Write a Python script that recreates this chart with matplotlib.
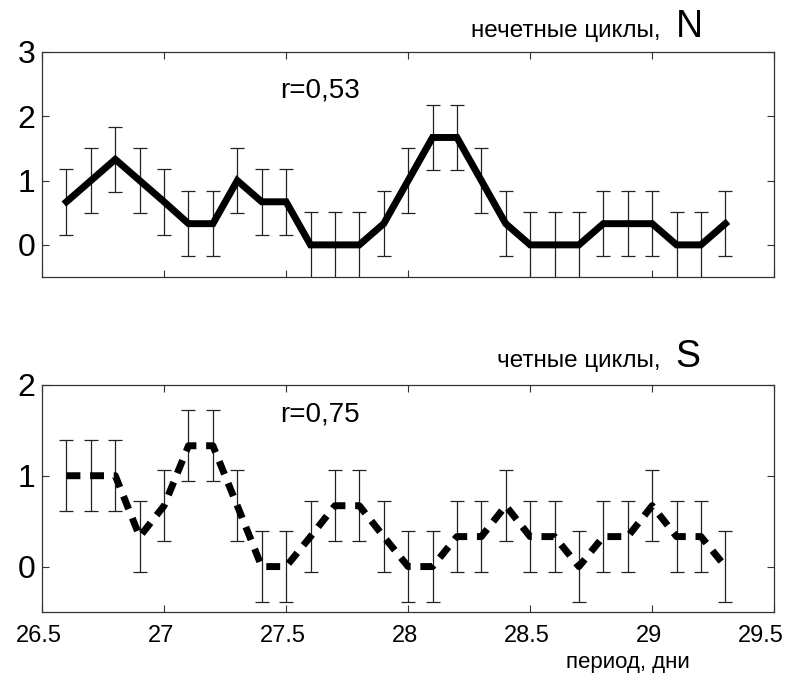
import numpy as np
import matplotlib
matplotlib.use("Agg")
import matplotlib.pyplot as plt
import matplotlib.transforms as mtransforms

plt.rcParams['font.family'] = ['Liberation Sans', 'DejaVu Sans']

# period, days
period = [26.6, 26.7, 26.8, 26.9, 27.0, 27.1, 27.2, 27.3, 27.4, 27.5,
          27.6, 27.7, 27.8, 27.9, 28.0, 28.1, 28.2, 28.3, 28.4, 28.5,
          28.6, 28.7, 28.8, 28.9, 29.0, 29.1, 29.2, 29.3]

# odd cycles, N
odd_n = [0.67, 1.0, 1.33, 1.0, 0.67, 0.33, 0.33, 1.0, 0.67, 0.67,
         0.0, 0.0, 0.0, 0.33, 1.0, 1.67, 1.67, 1.0, 0.33, 0.0,
         0.0, 0.0, 0.33, 0.33, 0.33, 0.0, 0.0, 0.33]
odd_err = [0.51] * 28

# even cycles, S
even_s = [1.0, 1.0, 1.0, 0.33, 0.67, 1.33, 1.33, 0.67, 0.0, 0.0,
          0.33, 0.67, 0.67, 0.33, 0.0, 0.0, 0.33, 0.33, 0.67, 0.33,
          0.33, 0.0, 0.33, 0.33, 0.67, 0.33, 0.33, 0.0]
even_err = [0.39] * 28

xticks = [26.5, 27, 27.5, 28, 28.5, 29, 29.5]
xticklabels = ['26.5', '27', '27.5', '28', '28.5', '29', '29.5']

fig = plt.figure(figsize=(7.94, 6.8), dpi=100)
ax1 = fig.add_axes([0.053, 0.5926, 0.922, 0.331])
ax2 = fig.add_axes([0.053, 0.100, 0.922, 0.334])

for ax in (ax1, ax2):
    ax.set_xlim(26.5, 29.5)
    ax.set_xticks(xticks)
    ax.set_xticklabels(xticklabels)
    ax.tick_params(direction='in', top=True, right=True, length=5,
                   width=0.8, color='#333333')
    ax.tick_params(axis='y', labelsize=23, pad=5)
    ax.tick_params(axis='x', labelsize=17, pad=9)
    for sp in ax.spines.values():
        sp.set_linewidth(0.9)
        sp.set_color('#333333')

# top panel
ax1.errorbar(period, odd_n, yerr=odd_err, fmt='none', ecolor='#222222',
             elinewidth=0.9, capsize=5, capthick=0.9)
ax1.plot(period, odd_n, color='black', lw=5, solid_joinstyle='miter')
ax1.set_ylim(-0.5, 3)
ax1.set_yticks([0, 1, 2, 3])
ax1.tick_params(axis='x', labelbottom=False)
ax1.text(27.64, 2.4, 'r=0,53', fontsize=20, ha='center', va='center')
fig.text(0.832, 1 - 37 / 680, 'нечетные циклы,', fontsize=17.5,
         ha='right', va='baseline')
fig.text(0.851, 1 - 37 / 680, 'N', fontsize=27, ha='left', va='baseline')

# bottom panel
ax2.errorbar(period, even_s, yerr=even_err, fmt='none', ecolor='#222222',
             elinewidth=0.9, capsize=5, capthick=0.9)
ax2.plot(period, even_s, color='black', lw=5, linestyle=(0, (2.0, 1.4)),
         dash_capstyle='butt')
ax2.set_ylim(-0.5, 2)
ax2.set_yticks([0, 1, 2])
ax2.text(27.64, 1.67, 'r=0,75', fontsize=20, ha='center', va='center')
fig.text(0.832, 1 - 367 / 680, 'четные циклы,', fontsize=17.5,
         ha='right', va='baseline')
fig.text(0.851, 1 - 367 / 680, 'S', fontsize=27, ha='left', va='baseline')

# shift x labels slightly left, the last one more so it stays inside
labels = ax2.get_xticklabels()
for i, lab in enumerate(labels):
    dx = -13 if i == len(labels) - 1 else -3
    off = mtransforms.ScaledTranslation(dx / 100, 0, fig.dpi_scale_trans)
    lab.set_transform(lab.get_transform() + off)

fig.text(0.791, 1 - 668 / 680, 'период, дни', fontsize=16,
         ha='center', va='baseline')

fig.savefig('out.png', dpi=100, facecolor='white')
